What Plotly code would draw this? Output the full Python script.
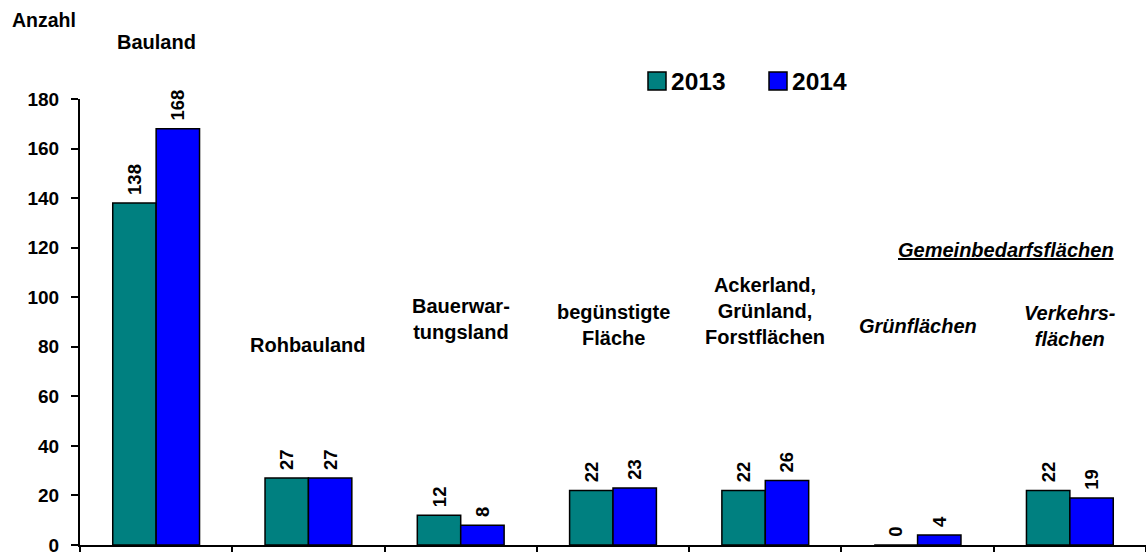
import plotly.graph_objects as go

categories = ["Bauland", "Rohbauland", "Bauerwartungsland", "begünstigte Fläche",
              "Ackerland, Grünland, Forstflächen", "Grünflächen", "Verkehrsflächen"]
values_2013 = [138, 27, 12, 22, 22, 0, 22]
values_2014 = [168, 27, 8, 23, 26, 4, 19]

# label text and vertical position (in data units) for each category
cat_labels = ["<b>Bauland</b>", "<b>Rohbauland</b>", "<b>Bauerwar-<br>tungsland</b>",
              "<b>begünstigte<br>Fläche</b>", "<b>Ackerland,<br>Grünland,<br>Forstflächen</b>",
              "<b><i>Grünflächen</i></b>", "<b><i>Verkehrs-<br>flächen</i></b>"]
cat_label_y = [203, 80.7, 91.4, 88.6, 94.4, 88.4, 88.4]

teal = "#008080"
blue = "#0000FF"
font = "Liberation Sans, Arial, sans-serif"

W, H = 1146, 552
L, T, B = 80, 99, 7
PW, PH = W - L, H - T - B


def px_x(x):
    return (x - L) / PW


def px_y(y):
    return 1 + (T - y) / PH


fig = go.Figure()
for name, vals, col in [("2013", values_2013, teal), ("2014", values_2014, blue)]:
    fig.add_trace(go.Bar(
        x=categories, y=vals, name=name,
        marker=dict(color=col, line=dict(color="black", width=1.5)),
        text=vals, texttemplate="\u00a0%{text}", textposition="outside",
        textangle=-90, cliponaxis=False,
        textfont=dict(family=font, size=18.5, color="black", weight="bold"),
    ))

for i, (lab, yy) in enumerate(zip(cat_labels, cat_label_y)):
    # convert data y to paper so labels above the range are still drawn
    fig.add_annotation(x=i, y=yy / 180, text=lab, showarrow=False, xref="x", yref="paper",
                       yanchor="middle", font=dict(family=font, size=20, color="black"))

fig.add_annotation(x=5.58, y=119 / 180, text="<b><i><u>Gemeinbedarfsflächen</u></i></b>",
                   showarrow=False, xref="x", yref="paper", yanchor="middle",
                   font=dict(family=font, size=20, color="black"))

fig.add_annotation(x=px_x(10), y=px_y(20), xref="paper", yref="paper", text="<b>Anzahl</b>",
                   showarrow=False, xanchor="left", yanchor="middle",
                   font=dict(family=font, size=19.5, color="black"))

# manual legend with larger squares
leg = [("2013", teal, 648), ("2014", blue, 769)]
for name, col, px0 in leg:
    y0, y1 = px_y(90), px_y(72)
    fig.add_shape(type="rect", xref="paper", yref="paper", x0=px_x(px0), x1=px_x(px0 + 18),
                  y0=y0, y1=y1, fillcolor=col, line=dict(color="black", width=1.5))
    fig.add_annotation(x=px_x(px0 + 21), y=(y0 + y1) / 2, xref="paper", yref="paper",
                       text="<b>" + name + "</b>", showarrow=False, xanchor="left",
                       yanchor="middle", font=dict(family=font, size=24.5, color="black"))

fig.update_layout(
    width=W, height=H,
    margin=dict(l=L, r=0, t=T, b=B, autoexpand=False),
    plot_bgcolor="white", paper_bgcolor="white",
    barmode="group", bargap=0.43, bargroupgap=0,
    showlegend=False,
    font=dict(family=font, color="black"),
)
fig.update_xaxes(showline=True, linecolor="black", linewidth=2, showticklabels=False,
                 ticks="outside", tickson="boundaries", ticklen=7, tickwidth=2,
                 tickcolor="black", showgrid=False, automargin=False)
fig.update_yaxes(range=[0, 180], dtick=20, showline=True, linecolor="black", linewidth=2,
                 ticks="outside", ticklen=7, tickwidth=2, tickcolor="black", showgrid=False,
                 zeroline=False, ticklabelstandoff=8, ticklabeloverflow="allow",
                 automargin=False,
                 tickfont=dict(family=font, size=19, color="black", weight="bold"))

fig.write_html("out.html", config={"displayModeBar": False},
               post_script="document.body.style.margin='0';")
